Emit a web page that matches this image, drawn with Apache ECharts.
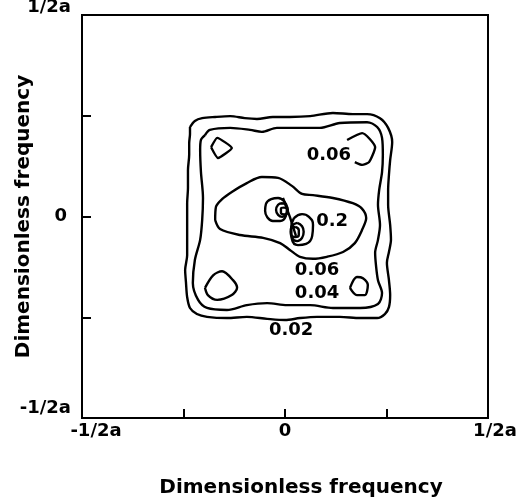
<!DOCTYPE html>
<html>
<head>
<meta charset="utf-8">
<title>Dimensionless frequency contours</title>
<script src="https://cdn.jsdelivr.net/npm/echarts@6/dist/echarts.min.js"></script>
<style>
  html, body { margin: 0; padding: 0; background: #fff; }
  #chart { width: 531px; height: 501px; }
</style>
</head>
<body>
<div id="chart"></div>
<script>
// Axis range and labelled ticks (frequency in units of 1/a)
const axisMin = -0.5;
const axisMax = 0.5;
const tickStep = 0.25;
const tickValues = [-0.5, 0, 0.5];
const tickLabels = ['-1/2a', '0', '1/2a'];
const axisTitle = 'Dimensionless frequency';

// Contour level 0.02 (outermost ring)
const contour002 = [
  [-0.234, 0.222], [-0.222, 0.237], [-0.204, 0.244], [-0.172, 0.247], [-0.135, 0.249],
  [-0.099, 0.244], [-0.069, 0.242], [-0.030, 0.247], [0.012, 0.247], [0.062, 0.249],
  [0.118, 0.257], [0.167, 0.254], [0.202, 0.254], [0.234, 0.244], [0.254, 0.220],
  [0.264, 0.185], [0.259, 0.140], [0.256, 0.103], [0.254, 0.066], [0.254, 0.029],
  [0.259, -0.021], [0.261, -0.058], [0.256, -0.088], [0.251, -0.115], [0.256, -0.158],
  [0.259, -0.195], [0.256, -0.225], [0.246, -0.242], [0.227, -0.252], [0.185, -0.252],
  [0.135, -0.249], [0.079, -0.249], [0.037, -0.252], [0.000, -0.257], [-0.044, -0.254],
  [-0.094, -0.249], [-0.143, -0.252], [-0.192, -0.249], [-0.217, -0.242], [-0.234, -0.227],
  [-0.241, -0.200], [-0.244, -0.162], [-0.246, -0.133], [-0.241, -0.096], [-0.241, -0.051],
  [-0.241, -0.009], [-0.241, 0.033], [-0.239, 0.071], [-0.239, 0.115], [-0.236, 0.153],
  [-0.236, 0.182], [-0.234, 0.205], [-0.234, 0.222]
];

// Contour level 0.04
const contour004 = [
  [-0.197, 0.202], [-0.185, 0.215], [-0.135, 0.220], [-0.086, 0.215], [-0.057, 0.210],
  [-0.020, 0.220], [0.030, 0.220], [0.086, 0.220], [0.135, 0.232], [0.202, 0.234],
  [0.227, 0.222], [0.239, 0.195], [0.241, 0.153], [0.239, 0.110], [0.232, 0.066],
  [0.229, 0.029], [0.234, -0.021], [0.229, -0.058], [0.222, -0.090], [0.224, -0.120],
  [0.229, -0.158], [0.239, -0.190], [0.229, -0.217], [0.185, -0.227], [0.118, -0.227],
  [0.062, -0.220], [0.005, -0.220], [-0.044, -0.215], [-0.094, -0.220], [-0.143, -0.232],
  [-0.192, -0.227], [-0.214, -0.207], [-0.227, -0.165], [-0.222, -0.108], [-0.209, -0.058],
  [-0.204, -0.009], [-0.202, 0.046], [-0.207, 0.110], [-0.209, 0.165], [-0.207, 0.190],
  [-0.197, 0.202]
];

// Contour level 0.06: central lobe and the four corner islands
const contour006Center = [
  [-0.172, -0.009], [-0.170, 0.024], [-0.155, 0.043], [-0.131, 0.061], [-0.094, 0.083],
  [-0.057, 0.098], [-0.017, 0.096], [0.017, 0.076], [0.042, 0.056], [0.069, 0.053],
  [0.118, 0.046], [0.167, 0.033], [0.190, 0.019], [0.200, -0.004], [0.190, -0.033],
  [0.172, -0.066], [0.143, -0.088], [0.103, -0.100], [0.069, -0.105], [0.037, -0.100],
  [0.012, -0.083], [-0.012, -0.066], [-0.054, -0.053], [-0.111, -0.046], [-0.160, -0.031],
  [-0.172, -0.009]
];
const contour006TopLeft = [
  [-0.182, 0.172], [-0.167, 0.195], [-0.131, 0.170], [-0.165, 0.145], [-0.182, 0.172]
];
// open on its left side where the level label sits
const contour006TopRight = [
  [0.153, 0.190], [0.190, 0.207], [0.222, 0.172], [0.207, 0.135], [0.190, 0.128], [0.172, 0.135]
];
const contour006BottomLeft = [
  [-0.197, -0.177], [-0.177, -0.146], [-0.155, -0.136], [-0.128, -0.158], [-0.118, -0.177],
  [-0.131, -0.195], [-0.167, -0.207], [-0.190, -0.195], [-0.197, -0.177]
];
const contour006BottomRight = [
  [0.160, -0.177], [0.177, -0.150], [0.192, -0.153], [0.204, -0.170], [0.197, -0.195],
  [0.177, -0.195], [0.160, -0.177]
];

// Rings around the two central peaks
const peakUpperOuter = [
  [-0.002, 0.038], [-0.017, 0.046], [-0.034, 0.043], [-0.047, 0.031], [-0.049, 0.014],
  [-0.044, -0.001], [-0.030, -0.011], [-0.012, -0.011], [0.002, 0.001], [0.005, 0.021],
  [-0.002, 0.038]
];
const peakUpperMid = [
  [-0.007, 0.033], [-0.017, 0.029], [-0.022, 0.016], [-0.017, 0.004], [-0.007, -0.001],
  [0.002, 0.004], [0.007, 0.016], [0.002, 0.029], [-0.007, 0.033]
];
const peakUpperInner = [
  [-0.002, 0.022], [0.005, 0.019], [0.006, 0.011], [-0.002, 0.005], [-0.010, 0.009],
  [-0.010, 0.019], [-0.002, 0.022]
];
const peakLowerOuter = [
  [0.022, -0.004], [0.042, 0.006], [0.059, -0.001], [0.069, -0.021], [0.067, -0.048],
  [0.052, -0.068], [0.032, -0.071], [0.017, -0.056], [0.015, -0.029], [0.022, -0.004]
];
const peakLowerMid = [
  [0.030, -0.016], [0.042, -0.024], [0.046, -0.038], [0.042, -0.053], [0.030, -0.061],
  [0.017, -0.053], [0.014, -0.038], [0.017, -0.024], [0.030, -0.016]
];
const peakLowerInner = [
  [0.025, -0.026], [0.034, -0.034], [0.034, -0.046], [0.025, -0.051], [0.015, -0.043],
  [0.015, -0.031], [0.025, -0.026]
];
const ridgeLine = [
  [-0.005, 0.046], [0.012, -0.001], [0.027, -0.048]
];

// Level labels and where they sit
const levelLabels = ['0.06', '0.2', '0.06', '0.04', '0.02'];
const levelLabelPos = [
  [0.108, 0.153], [0.116, -0.011], [0.079, -0.133], [0.079, -0.190], [0.015, -0.282]
];

const rings = [
  { name: '0.02', data: contour002, smooth: 0.3 },
  { name: '0.04', data: contour004, smooth: 0.3 },
  { name: '0.06', data: contour006Center, smooth: 0.3 },
  { name: '0.06', data: contour006TopLeft, smooth: 0.15 },
  { name: '0.06', data: contour006TopRight, smooth: 0.2 },
  { name: '0.06', data: contour006BottomLeft, smooth: 0.3 },
  { name: '0.06', data: contour006BottomRight, smooth: 0.3 },
  { name: '0.1', data: peakUpperOuter, smooth: 0.5 },
  { name: '0.15', data: peakUpperMid, smooth: 0.5 },
  { name: '0.2', data: peakUpperInner, smooth: 0.5 },
  { name: '0.1', data: peakLowerOuter, smooth: 0.5 },
  { name: '0.15', data: peakLowerMid, smooth: 0.5 },
  { name: '0.2', data: peakLowerInner, smooth: 0.5 },
  { name: 'ridge', data: ridgeLine, smooth: 0 }
];

const tickFont = { fontFamily: 'DejaVu Sans', fontWeight: 'bold', fontSize: 18, color: '#000' };
const titleFont = { fontFamily: 'DejaVu Sans', fontWeight: 'bold', fontSize: 20, color: '#000' };

function tickText(v) {
  const i = tickValues.findIndex(t => Math.abs(t - v) < 1e-9);
  return i < 0 ? '' : tickLabels[i];
}

function tickFormatter(v) {
  const t = tickText(v);
  if (!t) return '';
  if (v === axisMin) return '{lo|' + t + '}';
  if (v === axisMax) return '{hi|' + t + '}';
  return '{mid|' + t + '}';
}

const chart = echarts.init(document.getElementById('chart'), null, { renderer: 'canvas' });

const series = rings.map(r => ({
  type: 'line',
  name: r.name,
  data: r.data,
  smooth: r.smooth,
  showSymbol: false,
  symbol: 'none',
  lineStyle: { color: '#000', width: 2.4 },
  silent: true,
  animation: false,
  z: 3
}));

series.push({
  type: 'scatter',
  name: 'levels',
  symbolSize: 0,
  itemStyle: { opacity: 1, color: '#000' },
  data: levelLabels.map((t, i) => ({ name: t, value: levelLabelPos[i] })),
  label: {
    show: true,
    position: 'inside',
    formatter: p => p.name,
    fontFamily: 'DejaVu Sans',
    fontWeight: 'bold',
    fontSize: 18,
    color: '#000',
    opacity: 1,
    textBorderWidth: 0
  },
  silent: true,
  animation: false,
  z: 4
});

chart.setOption({
  backgroundColor: '#fff',
  animation: false,
  grid: {
    left: 82, right: 43, top: 15, bottom: 83,
    containLabel: false,
    outerBoundsMode: 'none',
    show: true, borderColor: '#000', borderWidth: 2, backgroundColor: 'transparent'
  },
  xAxis: {
    type: 'value',
    min: axisMin, max: axisMax, interval: tickStep,
    name: axisTitle,
    nameLocation: 'middle',
    nameGap: 60,
    nameMoveOverlap: false,
    nameTextStyle: { ...titleFont, padding: [0, 0, 0, 32] },
    axisLine: { show: true, onZero: false, lineStyle: { color: '#000', width: 2 } },
    axisTick: { show: true, inside: true, length: 9, lineStyle: { color: '#000', width: 2 } },
    splitLine: { show: false },
    axisLabel: {
      margin: 4,
      ...tickFont,
      formatter: tickFormatter,
      rich: {
        lo: { ...tickFont, padding: [0, 0, 0, 28] },
        hi: { ...tickFont, padding: [0, 0, 0, 14] },
        mid: { ...tickFont }
      }
    }
  },
  yAxis: {
    type: 'value',
    min: axisMin, max: axisMax, interval: tickStep,
    name: axisTitle,
    nameLocation: 'middle',
    nameGap: 48,
    nameMoveOverlap: false,
    nameTextStyle: { ...titleFont },
    axisLine: { show: true, onZero: false, lineStyle: { color: '#000', width: 2 } },
    axisTick: { show: true, inside: true, length: 9, lineStyle: { color: '#000', width: 2 } },
    splitLine: { show: false },
    axisLabel: {
      margin: 11,
      ...tickFont,
      formatter: tickFormatter,
      rich: {
        lo: { ...tickFont, padding: [0, 0, 20, 0] },
        hi: { ...tickFont, padding: [0, 0, 15, 0] },
        mid: { ...tickFont, padding: [0, 4, 0, 0] }
      }
    }
  },
  series: series
});
</script>
</body>
</html>
